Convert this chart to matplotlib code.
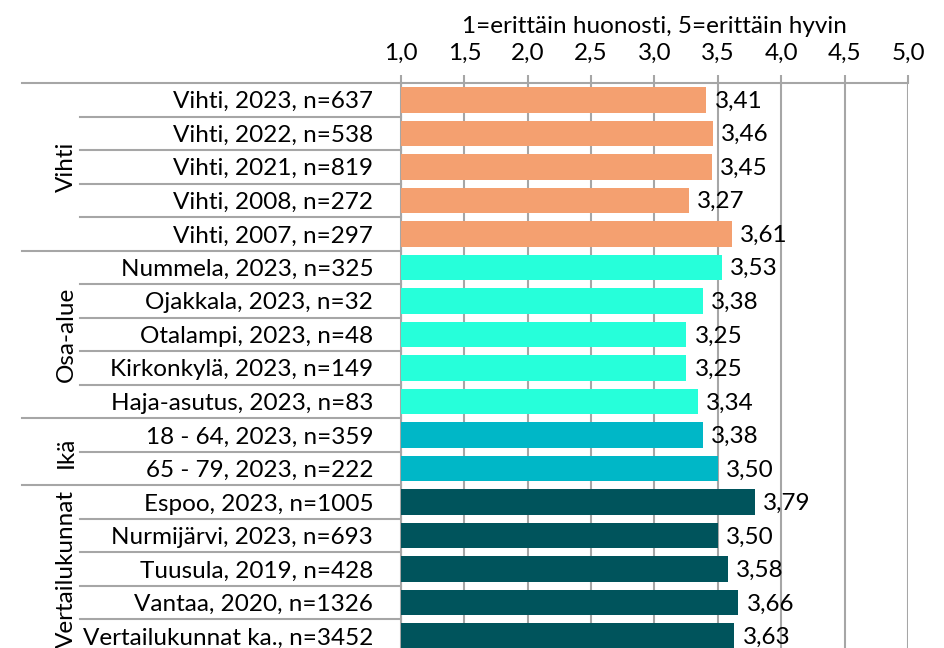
import matplotlib
matplotlib.use("Agg")
import matplotlib.pyplot as plt
import matplotlib.transforms as mtransforms

plt.rcParams['font.family'] = ['Lato', 'DejaVu Sans']

categories = [
    "Vihti, 2023, n=637", "Vihti, 2022, n=538", "Vihti, 2021, n=819",
    "Vihti, 2008, n=272", "Vihti, 2007, n=297",
    "Nummela, 2023, n=325", "Ojakkala, 2023, n=32", "Otalampi, 2023, n=48",
    "Kirkonkylä, 2023, n=149", "Haja-asutus, 2023, n=83",
    "18 - 64, 2023, n=359", "65 - 79, 2023, n=222",
    "Espoo, 2023, n=1005", "Nurmijärvi, 2023, n=693", "Tuusula, 2019, n=428",
    "Vantaa, 2020, n=1326", "Vertailukunnat ka., n=3452",
]
values = [3.41, 3.46, 3.45, 3.27, 3.61,
          3.53, 3.38, 3.25, 3.25, 3.34,
          3.38, 3.50,
          3.79, 3.50, 3.58, 3.66, 3.63]
groups = ["Vihti", "Osa-alue", "Ikä", "Vertailukunnat"]
group_sizes = [5, 5, 2, 5]
group_colors = ["#F4A070", "#26FFDA", "#00B7C7", "#00545C"]
xticks = [1.0, 1.5, 2.0, 2.5, 3.0, 3.5, 4.0, 4.5, 5.0]
title = "1=erittäin huonosti, 5=erittäin hyvin"

FS = 17.5
W, H = 944, 648
fig = plt.figure(figsize=(W / 100, H / 100), dpi=100)
ax = fig.add_axes([401 / W, 1 - 653 / H, (908 - 401) / W, (653 - 83) / H])

colors = []
for c, n in zip(group_colors, group_sizes):
    colors += [c] * n

ypos = list(range(len(categories)))
ax.barh(ypos, [v - 1.0 for v in values], left=1.0, height=0.76, color=colors,
        zorder=3)
ax.set_xlim(1.0, 5.0)
ax.set_ylim(len(categories) - 0.5, -0.5)

gridc = "#A6A6A6"
ax.set_xticks(xticks)
ax.set_xticklabels([f"{t:.1f}".replace(".", ",") for t in xticks], fontsize=FS)
ax.xaxis.tick_top()
ax.xaxis.set_label_position("top")
ax.tick_params(axis='x', length=6, width=1.5, color=gridc, pad=8)
ax.grid(axis='x', color=gridc, lw=1.5, zorder=0)
ax.set_xlabel(title, fontsize=FS, labelpad=7)

ax.set_yticks(ypos)
ax.set_yticklabels(categories, fontsize=FS)
ax.tick_params(axis='y', length=0, pad=20)

for s in ['right', 'bottom']:
    ax.spines[s].set_visible(False)
ax.spines['left'].set_color(gridc)
ax.spines['left'].set_linewidth(1.5)
ax.spines['top'].set_color(gridc)
ax.spines['top'].set_linewidth(1.5)

# value labels
for y, v in zip(ypos, values):
    ax.annotate(f"{v:.2f}".replace(".", ","), xy=(v, y), xytext=(6, -1),
                textcoords='offset points', va='center', ha='left',
                fontsize=FS, zorder=4)

# category separators and group labels
tr = mtransforms.blended_transform_factory(fig.transFigure, ax.transData)
start = 0
boundaries_group = {-0.5}
for n in group_sizes:
    start += n
    boundaries_group.add(start - 0.5)
for b in range(len(categories)):
    yb = b - 0.5
    x0 = 22 / W if yb in boundaries_group else 80 / W
    ax.plot([x0, 401 / W], [yb, yb], color=gridc, lw=1.5, transform=tr,
            clip_on=False)
start = 0
for g, n in zip(groups, group_sizes):
    yc = start + n / 2 - 0.5
    ax.text(66 / W, yc, g, rotation=90, ha='center', va='center', fontsize=FS,
            transform=tr, clip_on=False)
    start += n

fig.savefig("out.png", dpi=100)
